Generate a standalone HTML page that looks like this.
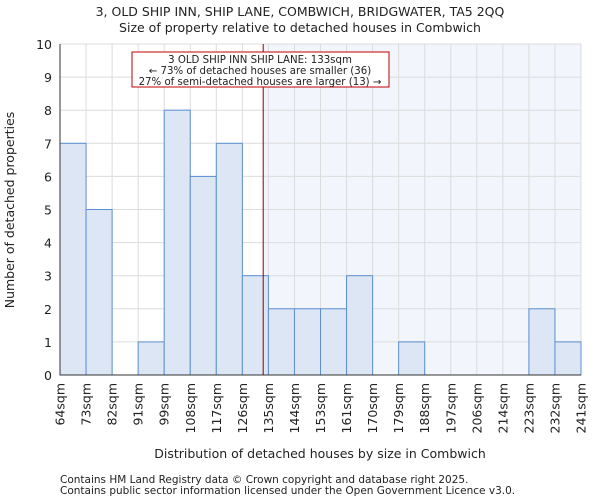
<!DOCTYPE html>
<html><head><meta charset="utf-8"><style>
body{margin:0;background:#fff;font-family:"DejaVu Sans","Liberation Sans",sans-serif}
svg text{font-family:"DejaVu Sans","Liberation Sans",sans-serif;fill:#222}
</style></head><body>
<svg id="chart" width="600" height="500" xmlns="http://www.w3.org/2000/svg">
<text x="300" y="16" text-anchor="middle" font-size="12.5">3, OLD SHIP INN, SHIP LANE, COMBWICH, BRIDGWATER, TA5 2QQ</text>
<text x="300" y="32" text-anchor="middle" font-size="12.5">Size of property relative to detached houses in Combwich</text>
<g id="plot"></g>
<text x="320" y="458" text-anchor="middle" font-size="12.5">Distribution of detached houses by size in Combwich</text>
<text transform="translate(14,210) rotate(-90)" text-anchor="middle" font-size="12.5">Number of detached properties</text>
<text x="60" y="483" font-size="10.5" fill="#444">Contains HM Land Registry data © Crown copyright and database right 2025.</text>
<text x="60" y="494" font-size="10.5" fill="#444">Contains public sector information licensed under the Open Government Licence v3.0.</text>
</svg>
<script>
const binLabels=["64sqm","73sqm","82sqm","91sqm","99sqm","108sqm","117sqm","126sqm","135sqm","144sqm","153sqm","161sqm","170sqm","179sqm","188sqm","197sqm","206sqm","214sqm","223sqm","232sqm","241sqm"];
const counts=[7,5,0,1,8,6,7,3,2,2,2,3,0,1,0,0,0,0,2,1];
const yTicks=[0,1,2,3,4,5,6,7,8,9,10];
const markerBin=7.8;
const NS="http://www.w3.org/2000/svg";
const X0=60,X1=581,Y0=375,Y1=44;
const bw=(X1-X0)/counts.length;
const xs=i=>X0+i*bw;
const ys=v=>Y0-(v/10)*(Y0-Y1);
const g=document.getElementById('plot');
function mk(t,a){const e=document.createElementNS(NS,t);for(const k in a)e.setAttribute(k,a[k]);g.appendChild(e);return e;}
const bg=mk('rect',{x:X0,y:Y1,width:X1-X0,height:Y0-Y1,fill:'#fff'});


const mx=xs(markerBin);
const sh=mk('rect',{x:mx,y:Y1,width:X1-mx,height:Y0-Y1,fill:'#f2f5fc'});


yTicks.forEach(t=>{
 const l=mk('line',{x1:X0,x2:X1,y1:ys(t),y2:ys(t),stroke:'#dcdcdc'});
 
 
 const tx=mk('text',{x:X0-8,y:ys(t)+5,'text-anchor':'end','font-size':12.5});
 tx.textContent=t;
 
 
});
binLabels.forEach((s,i)=>{
 const l=mk('line',{x1:xs(i),x2:xs(i),y1:Y1,y2:Y0,stroke:'#dcdcdc'});
 
 
 const tx=mk('text',{x:0,y:0,'text-anchor':'end','font-size':12.5,transform:`translate(${xs(i)+4.5},${Y0+8}) rotate(-90)`});
 tx.textContent=s;
 
 
});
counts.forEach((c,i)=>{
 if(!c)return;
 const r=mk('rect',{x:xs(i),y:ys(c),width:bw,height:Y0-ys(c),fill:'#dce6f5',stroke:'#5b8fd0','stroke-width':1});
 
 
});
const ax=mk('path',{d:`M${X0},${Y1}V${Y0}H${X1}`,fill:'none',stroke:'#333'});


const ml=mk('line',{x1:mx,x2:mx,y1:Y1,y2:Y0,stroke:'#8b0000','stroke-width':1});


const box=mk('rect',{x:132,y:52,width:257,height:35,fill:'#fff',stroke:'#c00000'});


["3 OLD SHIP INN SHIP LANE: 133sqm","← 73% of detached houses are smaller (36)","27% of semi-detached houses are larger (13) →"].forEach((s,i)=>{
 const t=mk('text',{x:260,y:63+i*11,'text-anchor':'middle','font-size':10.2});
 t.textContent=s;
 
 
});
</script>
</body></html>
